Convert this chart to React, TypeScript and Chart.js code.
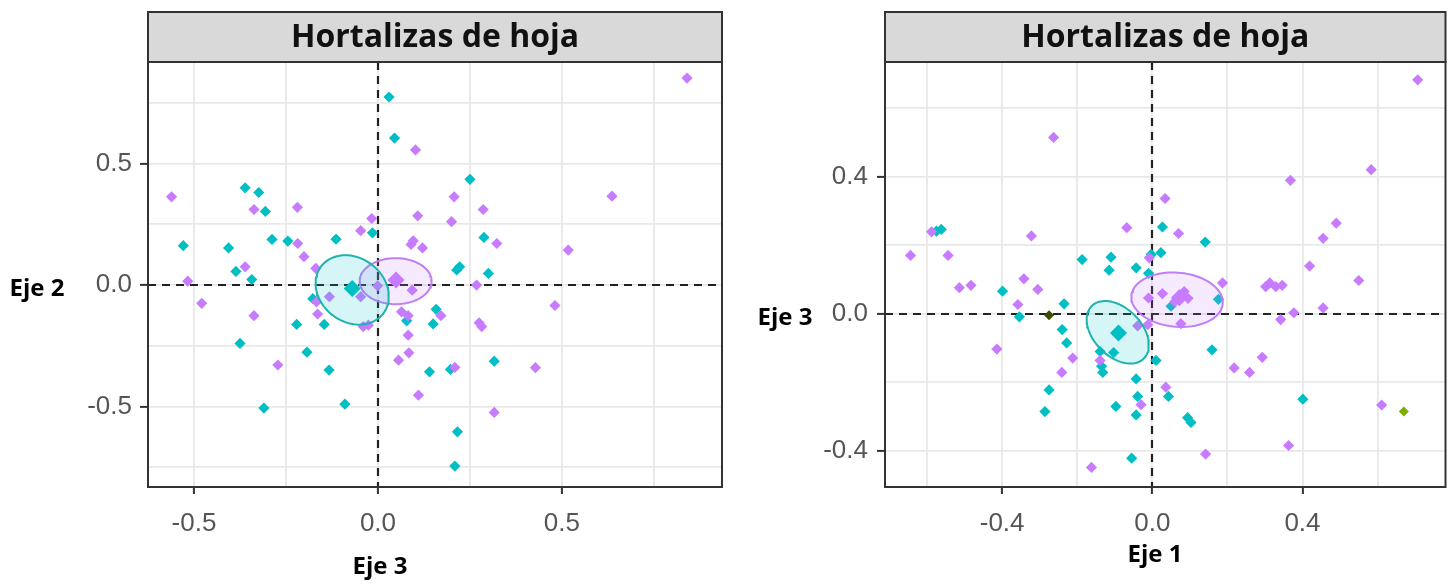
import React, { useEffect, useRef } from "react";
import { Chart, registerables } from "chart.js";

Chart.register(...registerables);

const PURPLE = "#C77CFF";
const TEAL = "#00BFC4";
const GREEN = "#7CAE00";
const DARKGREEN = "#3d4f00";

const panelTitle = "Hortalizas de hoja";

// ---------- Left panel: Eje 3 (x) vs Eje 2 (y) ----------
const leftXTicks = [-0.5, -0.25, 0, 0.25, 0.5, 0.75];
const leftXLabels = [-0.5, 0, 0.5];
const leftYTicks = [-0.75, -0.5, -0.25, 0, 0.25, 0.5, 0.75];
const leftYLabels = [-0.5, 0, 0.5];

const leftPurple: [number, number][] = [
  [-0.561, 0.363], [-0.337, 0.311], [-0.219, 0.32], [-0.017, 0.274], [-0.047, 0.224],
  [-0.218, 0.171], [-0.201, 0.117], [-0.361, 0.075], [-0.517, 0.016], [-0.479, -0.075],
  [-0.337, -0.126], [-0.132, -0.048], [-0.167, -0.069], [-0.164, -0.119], [-0.04, -0.171],
  [-0.026, -0.165], [-0.047, -0.048], [-0.001, -0.003], [0.093, -0.021], [0.102, 0.556],
  [0.207, 0.363], [0.286, 0.311], [0.108, 0.285], [0.2, 0.261], [0.096, 0.182],
  [0.09, 0.167], [0.121, 0.153], [0.064, -0.11], [0.082, -0.126], [0.082, -0.206],
  [0.171, -0.126], [0.275, -0.155], [0.282, -0.171], [0.268, 0.0], [0.323, 0.171],
  [0.84, 0.852], [0.636, 0.366], [0.517, 0.144], [0.481, -0.084], [-0.272, -0.329],
  [0.056, -0.309], [0.084, -0.279], [0.209, -0.339], [0.428, -0.34], [0.11, -0.453],
  [0.316, -0.524], [-0.169, 0.069],
];

const leftTeal: [number, number][] = [
  [-0.361, 0.4], [-0.324, 0.381], [-0.306, 0.303], [-0.529, 0.162], [-0.406, 0.153],
  [-0.288, 0.188], [-0.245, 0.181], [-0.114, 0.189], [-0.015, 0.215], [-0.386, 0.056],
  [-0.343, 0.023], [-0.177, -0.056], [-0.221, -0.162], [-0.146, -0.162], [-0.375, -0.24],
  [0.25, 0.435], [0.288, 0.196], [0.214, 0.062], [0.222, 0.075], [0.3, 0.048],
  [0.158, -0.1], [0.078, -0.147], [0.15, -0.16], [0.03, 0.774], [0.045, 0.605],
  [-0.193, -0.276], [-0.133, -0.35], [-0.31, -0.506], [-0.09, -0.49], [0.14, -0.357],
  [0.197, -0.347], [0.316, -0.313], [0.216, -0.604], [0.209, -0.745],
];

const leftCentroidPurple: [number, number][] = [[0.049, 0.021]];
const leftCentroidTeal: [number, number][] = [[-0.07, -0.014]];

// ellipse: [cx, cy, ux, uy, vx, vy] (conjugate semi-diameters, data units)
const leftEllipsePurple = [0.048, 0.016, 0.0978, 0.0, 0.0, 0.0947];
const leftEllipseTeal = [-0.07, -0.02, 0.0847, -0.0966, -0.0523, -0.1052];

// ---------- Right panel: Eje 1 (x) vs Eje 3 (y) ----------
const rightXTicks = [-0.6, -0.4, -0.2, 0, 0.2, 0.4, 0.6];
const rightXLabels = [-0.4, 0, 0.4];
const rightYTicks = [-0.4, -0.2, 0, 0.2, 0.4, 0.6];
const rightYLabels = [-0.4, 0, 0.4];

const rightPurple: [number, number][] = [
  [-0.588, 0.239], [-0.644, 0.17], [-0.544, 0.17], [-0.322, 0.227], [-0.514, 0.076],
  [-0.483, 0.083], [-0.342, 0.102], [-0.305, 0.071], [-0.358, 0.027], [-0.414, -0.103],
  [-0.212, -0.129], [-0.241, -0.171], [-0.139, -0.136], [-0.068, 0.251], [0.07, 0.234],
  [-0.008, 0.163], [-0.039, -0.035], [-0.012, -0.032], [0.034, 0.336], [0.036, -0.214],
  [0.49, 0.264], [0.455, 0.22], [0.419, 0.139], [0.55, 0.097], [0.187, 0.09],
  [0.302, 0.079], [0.313, 0.09], [0.329, 0.079], [0.346, 0.083], [0.377, 0.003],
  [0.455, 0.017], [0.342, -0.017], [0.027, 0.059], [-0.01, 0.046], [0.076, -0.029],
  [0.293, -0.127], [0.218, -0.158], [0.259, -0.171], [0.707, 0.682], [-0.263, 0.514],
  [0.368, 0.389], [0.583, 0.42], [0.611, -0.266], [0.363, -0.384], [0.142, -0.409],
  [-0.162, -0.448], [-0.03, -0.265], [0.085, 0.065], [0.06, 0.035], [0.095, 0.045],
];

const rightTeal: [number, number][] = [
  [-0.575, 0.241], [-0.562, 0.246], [-0.399, 0.066], [-0.354, -0.009], [-0.235, 0.029],
  [-0.187, 0.158], [-0.11, 0.165], [-0.115, 0.127], [-0.043, 0.134], [0.027, 0.253],
  [-0.003, 0.173], [0.023, 0.178], [-0.01, 0.118], [-0.24, -0.046], [-0.228, -0.085],
  [-0.139, -0.11], [-0.135, -0.153], [-0.132, -0.171], [-0.103, -0.113], [0.01, -0.136],
  [-0.043, -0.19], [-0.275, -0.222], [-0.039, -0.241], [0.043, -0.241], [0.141, 0.209],
  [0.176, 0.042], [0.159, -0.105], [0.401, -0.249], [-0.286, -0.285], [-0.097, -0.27],
  [-0.043, -0.295], [0.094, -0.303], [0.103, -0.317], [-0.055, -0.421], [0.05, 0.022],
];

const rightGreen: [number, number][] = [[0.67, -0.285]];
const rightDarkGreen: [number, number][] = [[-0.275, -0.004]];

const rightCentroidPurple: [number, number][] = [[0.072, 0.047]];
const rightCentroidTeal: [number, number][] = [[-0.09, -0.056]];

const rightEllipsePurple = [0.066, 0.041, 0.1217, -0.0117, -0.0063, -0.0786];
const rightEllipseTeal = [-0.092, -0.054, 0.0695, -0.0765, -0.0451, -0.0496];

// ---------- helpers ----------
const toPts = (a: [number, number][]) => a.map(([x, y]) => ({ x, y }));

function ellipseOutline(e: number[]) {
  const pts: { x: number; y: number }[] = [];
  const n = 90;
  for (let i = 0; i <= n; i++) {
    const t = (i / n) * Math.PI * 2;
    pts.push({
      x: e[0] + e[2] * Math.cos(t) + e[4] * Math.sin(t),
      y: e[1] + e[3] * Math.cos(t) + e[5] * Math.sin(t),
    });
  }
  return pts;
}

const isIn = (arr: number[], v: number) => arr.some((a) => Math.abs(a - v) < 1e-6);
const fmt = (v: number) => (Math.abs(v) < 1e-9 ? "0.0" : v.toFixed(1));

const decorPlugin = {
  id: "decor",
  beforeDatasetsDraw(chart: any) {
    const { ctx, chartArea, scales } = chart;
    const x0 = Math.round(scales.x.getPixelForValue(0));
    const y0 = Math.round(scales.y.getPixelForValue(0));
    ctx.save();
    ctx.strokeStyle = "#222222";
    ctx.lineWidth = 2.2;
    ctx.setLineDash([8, 6]);
    ctx.beginPath();
    ctx.moveTo(x0, chartArea.top);
    ctx.lineTo(x0, chartArea.bottom);
    ctx.moveTo(chartArea.left, y0);
    ctx.lineTo(chartArea.right, y0);
    ctx.stroke();
    ctx.restore();
  },
  afterDraw(chart: any, _args: any, opts: any) {
    const { ctx, chartArea } = chart;
    ctx.save();
    // panel border
    ctx.strokeStyle = "#333333";
    ctx.lineWidth = 2;
    ctx.strokeRect(chartArea.left, chartArea.top, chartArea.right - chartArea.left, chartArea.bottom - chartArea.top);
    // header strip
    const hTop = opts.headerTop;
    ctx.fillStyle = "#d9d9d9";
    ctx.fillRect(chartArea.left, hTop, chartArea.right - chartArea.left, chartArea.top - hTop);
    ctx.strokeRect(chartArea.left, hTop, chartArea.right - chartArea.left, chartArea.top - hTop);
    ctx.fillStyle = "#111111";
    ctx.font = "bold 32px 'Open Sans'";
    ctx.textAlign = "center";
    ctx.textBaseline = "middle";
    ctx.fillText(opts.header, (chartArea.left + chartArea.right) / 2, (hTop + chartArea.top) / 2 + 1);
    // axis titles
    ctx.font = "bold 24px 'Open Sans'";
    ctx.fillStyle = "#000000";
    ctx.fillText(opts.xTitle, opts.xTitleX, opts.xTitleY);
    ctx.fillText(opts.yTitle, opts.yTitleX, opts.yTitleY);
    ctx.restore();
  },
};

interface PanelCfg {
  width: number;
  height: number;
  padding: { left: number; right: number; top: number; bottom: number };
  xMin: number; xMax: number; yMin: number; yMax: number;
  xTicks: number[]; xLabels: number[]; yTicks: number[]; yLabels: number[];
  purple: [number, number][]; teal: [number, number][];
  extra: { pts: [number, number][]; color: string }[];
  cPurple: [number, number][]; cTeal: [number, number][];
  ePurple: number[]; eTeal: number[];
  decor: any;
  yLabelPad: number;
}

function Panel({ cfg, left }: { cfg: PanelCfg; left: number }) {
  const ref = useRef<HTMLCanvasElement | null>(null);
  useEffect(() => {
    if (!ref.current) return;
    const pointDs = (pts: [number, number][], color: string, r: number, order: number) => ({
      type: "scatter" as const,
      data: toPts(pts),
      backgroundColor: color,
      borderColor: color,
      borderWidth: 0,
      pointStyle: "rectRot",
      pointRadius: r,
      order,
    });
    const ellDs = (e: number[], color: string, fill: string) => ({
      type: "scatter" as const,
      data: ellipseOutline(e),
      showLine: true,
      borderColor: color,
      borderWidth: 2,
      backgroundColor: fill,
      fill: "shape",
      pointRadius: 0,
      tension: 0,
      order: 2,
    });
    const chart = new Chart(ref.current, {
      type: "scatter",
      data: {
        datasets: [
          pointDs(cfg.purple, PURPLE, 5.6, 3),
          pointDs(cfg.teal, TEAL, 5.6, 3),
          ...cfg.extra.map((e) => pointDs(e.pts, e.color, 5, 3)),
          ellDs(cfg.eTeal, "#1fb3ae", "rgba(0,191,196,0.16)"),
          ellDs(cfg.ePurple, "#c07ef5", "rgba(199,124,255,0.16)"),
          pointDs(cfg.cTeal, TEAL, 8.5, 1),
          pointDs(cfg.cPurple, PURPLE, 8.5, 1),
        ] as any,
      },
      options: {
        animation: false,
        responsive: false,
        maintainAspectRatio: false,
        events: [],
        layout: { padding: cfg.padding },
        plugins: {
          legend: { display: false },
          tooltip: { enabled: false },
          title: { display: false },
          decor: cfg.decor,
        } as any,
        scales: {
          x: {
            type: "linear",
            min: cfg.xMin,
            max: cfg.xMax,
            afterBuildTicks: (s: any) => {
              s.ticks = cfg.xTicks.map((v) => ({ value: v }));
            },
            afterFit: (s: any) => {
              s.height = 60;
            },
            ticks: {
              autoSkip: false,
              maxRotation: 0,
              padding: 14,
              color: "#555555",
              font: { family: "'Liberation Sans'", size: 26 },
              callback: (v: any) => (isIn(cfg.xLabels, Number(v)) ? fmt(Number(v)) : ""),
            },
            grid: {
              color: "#e8e8e8",
              lineWidth: 1.8,
              tickLength: 7,
              tickWidth: 2,
              tickColor: (c: any) => (c.tick && isIn(cfg.xLabels, c.tick.value) ? "#333333" : "rgba(0,0,0,0)"),
            },
            border: { display: false },
          },
          y: {
            type: "linear",
            min: cfg.yMin,
            max: cfg.yMax,
            afterBuildTicks: (s: any) => {
              s.ticks = cfg.yTicks.map((v) => ({ value: v }));
            },
            afterFit: (s: any) => {
              s.width = 70;
            },
            ticks: {
              autoSkip: false,
              padding: cfg.yLabelPad,
              color: "#555555",
              font: { family: "'Liberation Sans'", size: 26 },
              callback: (v: any) => (isIn(cfg.yLabels, Number(v)) ? fmt(Number(v)) : ""),
            },
            grid: {
              color: "#e8e8e8",
              lineWidth: 1.8,
              tickLength: 8,
              tickWidth: 2,
              tickColor: (c: any) => (c.tick && isIn(cfg.yLabels, c.tick.value) ? "#333333" : "rgba(0,0,0,0)"),
            },
            border: { display: false },
          },
        },
      } as any,
      plugins: [decorPlugin],
    });
    return () => chart.destroy();
  }, [cfg]);
  return (
    <canvas
      ref={ref}
      width={cfg.width}
      height={cfg.height}
      style={{ position: "absolute", left, top: 0, width: cfg.width, height: cfg.height }}
    />
  );
}

const leftCfg: PanelCfg = {
  width: 740,
  height: 586,
  padding: { left: 78, right: 18, top: 62, bottom: 39 },
  xMin: -0.625, xMax: 0.935, yMin: -0.831, yMax: 0.918,
  xTicks: leftXTicks, xLabels: leftXLabels, yTicks: leftYTicks, yLabels: leftYLabels,
  purple: leftPurple, teal: leftTeal, extra: [],
  cPurple: leftCentroidPurple, cTeal: leftCentroidTeal,
  ePurple: leftEllipsePurple, eTeal: leftEllipseTeal,
  yLabelPad: 8,
  decor: { header: panelTitle, headerTop: 12, xTitle: "Eje 3", xTitleX: 380, xTitleY: 567, yTitle: "Eje 2", yTitleX: 37, yTitleY: 289 },
};

const rightCfg: PanelCfg = {
  width: 714,
  height: 586,
  padding: { left: 75, right: 7, top: 62, bottom: 39 },
  xMin: -0.712, xMax: 0.781, yMin: -0.505, yMax: 0.734,
  xTicks: rightXTicks, xLabels: rightXLabels, yTicks: rightYTicks, yLabels: rightYLabels,
  purple: rightPurple, teal: rightTeal,
  extra: [
    { pts: rightGreen, color: GREEN },
    { pts: rightDarkGreen, color: DARKGREEN },
  ],
  cPurple: rightCentroidPurple, cTeal: rightCentroidTeal,
  ePurple: rightEllipsePurple, eTeal: rightEllipseTeal,
  yLabelPad: 9,
  decor: { header: panelTitle, headerTop: 12, xTitle: "Eje 1", xTitleX: 415, xTitleY: 555, yTitle: "Eje 3", yTitleX: 45, yTitleY: 318 },
};

export default function App() {
  return (
    <div style={{ position: "absolute", left: 0, top: 0, width: 1454, height: 586, background: "#ffffff", overflow: "hidden" }}>
      <Panel cfg={leftCfg} left={0} />
      <Panel cfg={rightCfg} left={740} />
    </div>
  );
}
